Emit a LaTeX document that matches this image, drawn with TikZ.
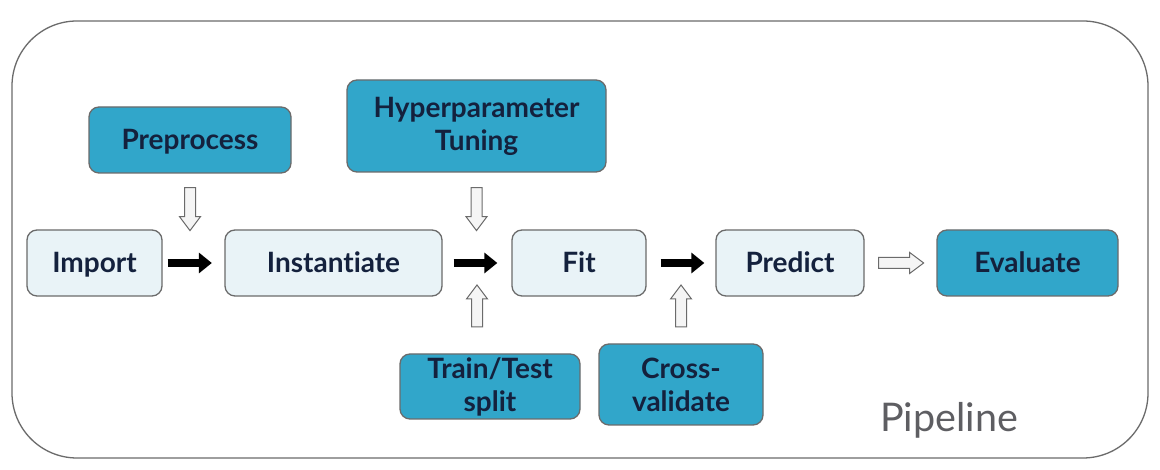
\documentclass[tikz,border=0pt]{standalone}
\usepackage{fontspec}
\setmainfont{Lato}[Ligatures=NoCommon]
\usetikzlibrary{calc,arrows.meta}
\definecolor{bluebox}{HTML}{31A6CA}
\definecolor{lightbox}{HTML}{E9F3F7}
\definecolor{edgegray}{HTML}{6B6B6B}
\definecolor{txt}{HTML}{14213D}
\definecolor{pipegray}{HTML}{5E5E62}
\begin{document}
\begin{tikzpicture}[x=1pt,y=1pt,
  box/.style={draw=edgegray, line width=1.3pt, rounded corners=10pt, align=center,
    font=\bfseries\fontsize{28}{33}\selectfont, text=txt, inner sep=0pt},
  oneline/.style={text height=26pt, text depth=6pt},
  light/.style={box, oneline, fill=lightbox},
  dark/.style={box, fill=bluebox},
  blackarr/.style={line width=8pt, -{Triangle[length=13pt,width=20pt]}},
  hollow/.style={draw=edgegray, fill=gray!8, line width=1pt, line join=miter},
  pics/harrow/.style={code={\draw[hollow] (0,-5.5) -- (#1-14,-5.5) -- (#1-14,-10.5) -- (#1,0) -- (#1-14,10.5) -- (#1-14,5.5) -- (0,5.5) -- cycle;}}
]
\useasboundingbox (0,0) rectangle (1160,470);
\fill[white] (0,0) rectangle (1160,470);
\draw[edgegray, line width=1.3pt, rounded corners=65pt] (12,12) rectangle (1148,449);

% main row
\node[light, minimum width=135pt, minimum height=66pt] (import) at (94.5,207) {Import};
\node[light, minimum width=217pt, minimum height=66pt] (inst) at (333.5,207) {Instantiate};
\node[light, minimum width=134pt, minimum height=66pt] (fit) at (579,207) {Fit};
\node[light, minimum width=148pt, minimum height=66pt] (pred) at (790,207) {Predict};
\node[dark, oneline, minimum width=181pt, minimum height=66pt] (eval) at (1027.5,207) {Evaluate};

% top row
\node[dark, oneline, minimum width=202pt, minimum height=66pt] (pre) at (190,330) {Preprocess};
\node[dark, minimum width=259pt, minimum height=92pt] (hyp) at (476.5,344) {Hyperparameter\\Tuning};

% bottom row
\node[dark, minimum width=180pt, minimum height=65pt] (tts) at (490,83.5) {Train/Test\\split};
\node[dark, minimum width=164pt, minimum height=81pt] (cv) at (681,85.5) {Cross-\\validate};

\node[anchor=base west, inner sep=0pt, text=pipegray, font=\fontsize{39.5}{44}\selectfont] (pipe) at (880,38) {Pipeline};

% gaps
\coordinate (g2) at ($(inst.east)!0.5!(fit.west)$);
\coordinate (g3) at ($(fit.east)!0.5!(pred.west)$);

% black arrows
\draw[blackarr, shorten <=5pt, shorten >=12.5pt] (import) -- (inst);
\draw[blackarr, shorten <=11pt, shorten >=14pt] (inst) -- (fit);
\draw[blackarr, shorten <=14pt, shorten >=11pt] (fit) -- (pred);

% hollow arrows
\pic (a1) [rotate=-90] at ([yshift=-14pt]pre.south) {harrow=43};
\pic (a2) [rotate=-90] at ([yshift=-15pt]hyp.south) {harrow=43};
\pic (a3) [rotate=90] at ([yshift=-64pt]g2) {harrow=42};
\pic (a4) [rotate=90] at ([yshift=-64pt]g3) {harrow=42};
\pic (a5) at ([xshift=14pt]pred.east) {harrow=45};
\end{tikzpicture}
\end{document}
